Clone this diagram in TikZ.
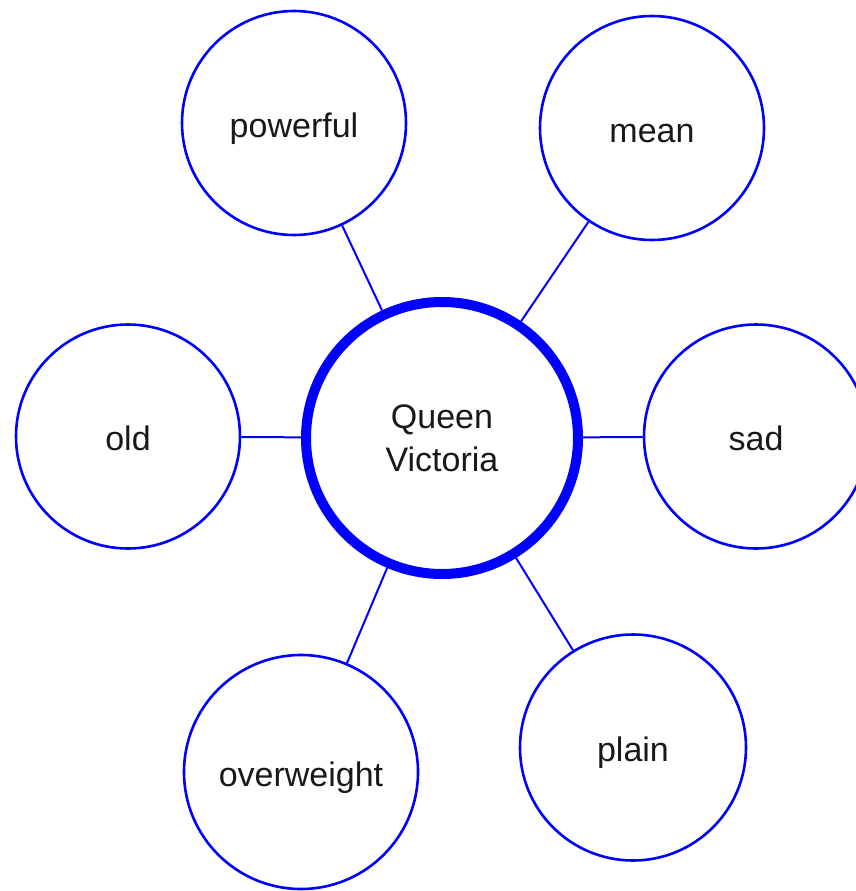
\documentclass[tikz,border=0pt]{standalone}
\usepackage{fontspec}
\setmainfont{Liberation Sans}
\begin{document}
\begin{tikzpicture}[x=1pt,y=-1pt,
  word/.style={circle,draw=blue,line width=2.6pt,fill=white,minimum size=224pt,inner sep=0pt,
    text=black!90,font=\fontsize{34}{43}\selectfont,text height=28pt,text depth=0pt},
  hub/.style={word,line width=10pt,minimum size=272pt,align=center,text height={},text depth={}},
  link/.style={draw=blue,line width=2pt}]
\clip (0,0) rectangle (856,891);
\fill[white] (0,0) rectangle (856,891);
\node[hub] (c) at (442,438) {Queen\\Victoria};
\node[word] (pow) at (294,123) {powerful};
\node[word] (mean) at (652,128) {mean};
\node[word] (old) at (128,436.5) {old};
\node[word] (sad) at (756,436.5) {sad};
\node[word,minimum size=234pt] (over) at (301,772) {overweight};
\node[word,minimum size=226pt] (plain) at (633,747.5) {plain};
\foreach \n in {pow,mean,old,sad,over,plain}{\draw[link] (c) -- (\n);}
\end{tikzpicture}
\end{document}
